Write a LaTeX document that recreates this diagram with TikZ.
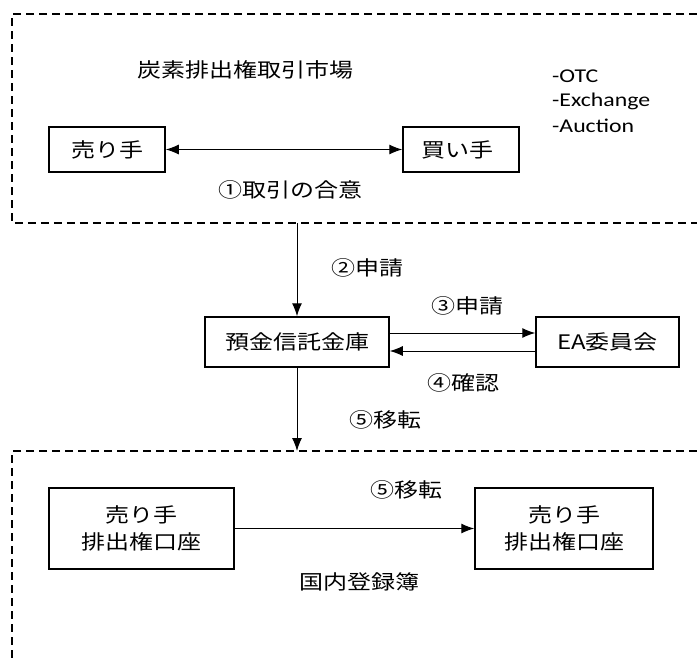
\documentclass[tikz,border=0pt]{standalone}
\usepackage{fontspec}
\setmainfont{Carlito}[FakeStretch=1.22]
\newfontfamily\jp{Noto Sans CJK JP}[FakeStretch=1.2]
\usetikzlibrary{arrows.meta}
\tikzset{
  region/.style={line width=2pt, dash pattern=on 8pt off 5pt},
  box/.style={draw, line width=1.5pt, inner sep=0pt, align=center,
    font=\jp\fontsize{20}{27}\selectfont},
  lbl/.style={inner sep=0pt, font=\jp\fontsize{20}{24}\selectfont},
  lat/.style={inner sep=0pt, anchor=west, font=\fontsize{19.5}{24}\selectfont},
  conn/.style={line width=1pt, -{Latex[length=13pt,width=10pt]}},
  conn2/.style={line width=1pt, {Latex[length=13pt,width=10pt]}-{Latex[length=13pt,width=10pt]}}
}
\begin{document}
\begin{tikzpicture}[x=1pt,y=-1pt]
\useasboundingbox (0,0) rectangle (697,662);
% regions
\draw[region] (697,14) -- (12,14) -- (12,223) -- (697,223);
\draw[region] (697,451) -- (12,451) -- (12,662);
% top region
\node[lbl] (title) at (245,70) {炭素排出権取引市場};
\node[lat] (otc) at (552,76) {-OTC};
\node[lat] (exch) at (552,101) {-Exchange};
\node[lat] (auct) at (552,126) {-Auction};
\node[box, minimum width=116pt, minimum height=45pt] (seller) at (107,149.5) {売り手};
\node[box, minimum width=116pt, minimum height=45pt] (buyer) at (461,149.5) {\hspace*{-8pt}買い手};
\draw[conn2] (seller) -- (buyer);
\node[lbl] (l1) at (290,190) {①取引の合意};
% middle
\coordinate (topexit) at (297,223);
\node[box, minimum width=184pt, minimum height=50pt] (bank) at (297,342) {預金信託金庫};
\node[box, minimum width=143pt, minimum height=50pt] (ea) at (607.5,342) {EA委員会};
\draw[conn] (topexit) -- (bank.north);
\node[lbl] (l2) at (367,268) {②申請};
\draw[conn] ([yshift=9pt]bank.east) -- ([yshift=9pt]ea.west);
\draw[conn] ([yshift=-9pt]ea.west) -- ([yshift=-9pt]bank.east);
\node[lbl] (l3) at (467,306) {③申請};
\node[lbl] (l4) at (463,383) {④確認};
\coordinate (botentry) at (297,451);
\draw[conn] (bank.south) -- (botentry);
\node[lbl] (l5) at (385,420) {⑤移転};
% bottom region
\node[box, minimum width=185pt, minimum height=81pt] (acc1) at (141.5,528.5) {売り手\\排出権口座};
\node[box, minimum width=178pt, minimum height=81pt] (acc2) at (564,528.5) {売り手\\排出権口座};
\draw[conn] (acc1) -- (acc2);
\node[lbl] (l6) at (406,490) {⑤移転};
\node[lbl] (reg) at (359,582) {国内登録簿};
\end{tikzpicture}
\end{document}
